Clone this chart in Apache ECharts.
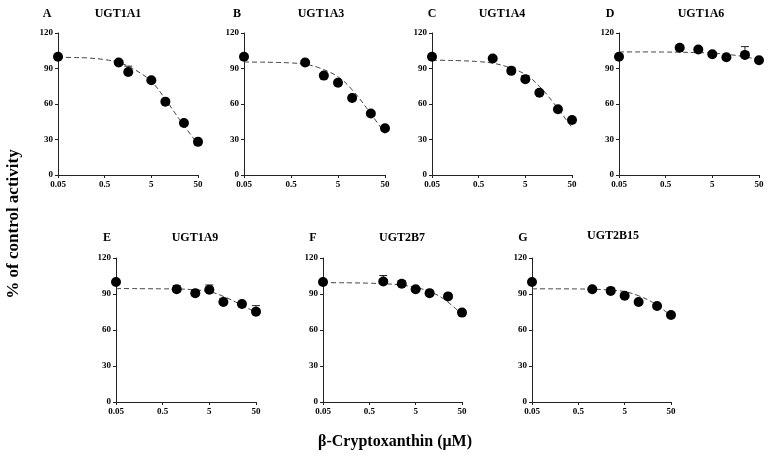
<!DOCTYPE html>
<html>
<head>
<meta charset="utf-8">
<script src="https://cdn.jsdelivr.net/npm/echarts@6/dist/echarts.min.js"></script>
<style>
  html, body { margin: 0; padding: 0; background: #fff; }
  #chart { width: 768px; height: 459px; }
</style>
</head>
<body>
<div id="chart"></div>
<script>
// concentrations (uM) and tick labels
var conc = [0.05, 1, 2.5, 5, 10, 25, 50];
var concA = [0.05, 1, 1.6, 5, 10, 25, 50];
var fitX = [0.05, 0.1, 0.2, 0.5, 1, 2, 5, 10, 20, 50];
var tickLabels = ['0.05', '0.5', '5', '50'];

var letters = ['A', 'B', 'C', 'D', 'E', 'F', 'G'];
var names = ['UGT1A1', 'UGT1A3', 'UGT1A4', 'UGT1A6', 'UGT1A9', 'UGT2B7', 'UGT2B15'];

// % of control activity (mean), upper error, fitted curve read at fitX
var ugt1a1 = [100, 95, 87, 80, 62, 44, 28];
var ugt1a1Err = [0, 0, 5, 0, 0, 0, 0];
var ugt1a1Fit = [99.5, 99.3, 99, 97.5, 95, 90, 79, 64, 47, 26];

var ugt1a3 = [100, 95, 84, 78, 65, 52, 39.5];
var ugt1a3Err = [0, 0, 0, 0, 0, 0, 0];
var ugt1a3Fit = [95.5, 95.4, 95.2, 94.7, 93.5, 90.5, 83, 72, 57, 35];

var ugt1a4 = [100, 98.5, 88, 81, 69.5, 55.5, 46.5];
var ugt1a4Err = [0, 0, 3, 3, 0, 0, 0];
var ugt1a4Fit = [97, 96.9, 96.6, 95.8, 94.5, 91.5, 85, 75, 61, 40];

var ugt1a6 = [100, 107.5, 106, 102, 99.5, 101.5, 97];
var ugt1a6Err = [0, 0, 0, 0, 0, 7, 0];
var ugt1a6Fit = [104, 104, 104, 103.9, 103.8, 103.5, 103, 102, 100.5, 97.5];

var ugt1a9 = [100, 94, 90.7, 93.5, 83.4, 81.7, 75.3];
var ugt1a9Err = [0, 3, 0, 4, 3, 0, 5];
var ugt1a9Fit = [94.5, 94.5, 94.4, 94.3, 94.2, 93.7, 92, 88, 82.5, 74.5];

var ugt2b7 = [100, 100.4, 98.5, 94, 90.7, 88, 74.5];
var ugt2b7Err = [0, 5, 2.5, 0, 0, 2, 0];
var ugt2b7Fit = [99.5, 99.4, 99.3, 99, 98.6, 97.8, 95.5, 92, 86, 73];

var ugt2b15 = [100, 94, 92.6, 88.5, 83.4, 80, 72.5];
var ugt2b15Err = [0, 0, 0, 0, 0, 0, 0];
var ugt2b15Fit = [94.3, 94.3, 94.3, 94.2, 94, 93.5, 92, 88.5, 83, 72];

var panels = [
  { x: concA, y: ugt1a1, err: ugt1a1Err, fit: ugt1a1Fit, grid: [58, 33, 140, 142] },
  { x: conc, y: ugt1a3, err: ugt1a3Err, fit: ugt1a3Fit, grid: [244, 33, 141, 142] },
  { x: conc, y: ugt1a4, err: ugt1a4Err, fit: ugt1a4Fit, grid: [432, 33, 140, 142] },
  { x: conc, y: ugt1a6, err: ugt1a6Err, fit: ugt1a6Fit, grid: [619, 33, 140, 142] },
  { x: conc, y: ugt1a9, err: ugt1a9Err, fit: ugt1a9Fit, grid: [116, 258, 140, 144] },
  { x: conc, y: ugt2b7, err: ugt2b7Err, fit: ugt2b7Fit, grid: [323, 258, 139, 144] },
  { x: conc, y: ugt2b15, err: ugt2b15Err, fit: ugt2b15Fit, grid: [532, 258, 139, 144] }
];
// panel letter / name positions
var letterPos = [[47, 14], [237, 14], [432, 14], [610, 14], [107, 238], [313, 238], [523, 238]];
var namePos = [[118, 14], [321, 14], [502, 14], [701, 14], [195, 238], [402, 238], [613, 236]];

var serif = "'Liberation Serif', 'Times New Roman', serif";

// decades above 0.05 -> value axis position
function lx(v) { return Math.log10(v / 0.05); }

function renderErr(params, api) {
  var p0 = api.coord([api.value(0), api.value(1)]);
  var p1 = api.coord([api.value(0), api.value(1) + api.value(2)]);
  var st = { stroke: '#222', lineWidth: 1 };
  return {
    type: 'group',
    children: [
      { type: 'line', shape: { x1: p0[0], y1: p0[1], x2: p1[0], y2: p1[1] }, style: st },
      { type: 'line', shape: { x1: p1[0] - 4, y1: p1[1], x2: p1[0] + 4, y2: p1[1] }, style: st }
    ]
  };
}

var grids = [], xAxes = [], yAxes = [], series = [], graphics = [];

panels.forEach(function (p, i) {
  grids.push({ left: p.grid[0], top: p.grid[1], width: p.grid[2], height: p.grid[3] });
  xAxes.push({
    type: 'value', gridIndex: i, min: 0, max: 3, interval: 1,
    axisLine: { lineStyle: { color: '#222', width: 1 } },
    axisTick: { length: 3, lineStyle: { color: '#222' } },
    splitLine: { show: false },
    axisLabel: {
      color: '#000', fontFamily: serif, fontWeight: 'bold', fontSize: 9, margin: 5,
      formatter: function (v) { return tickLabels[Math.round(v)]; }
    }
  });
  yAxes.push({
    type: 'value', gridIndex: i, min: 0, max: 120, interval: 30,
    axisLine: { show: true, lineStyle: { color: '#222', width: 1 } },
    axisTick: { show: true, length: 3, lineStyle: { color: '#222' } },
    splitLine: { show: false },
    axisLabel: { color: '#000', fontFamily: serif, fontWeight: 'bold', fontSize: 9, margin: 5 }
  });

  series.push({
    type: 'line', xAxisIndex: i, yAxisIndex: i, smooth: 0.4, symbol: 'none', silent: true,
    lineStyle: { color: '#444', width: 1, type: [5, 3] },
    data: fitX.map(function (v, k) { return [lx(v), p.fit[k]]; })
  });

  var errData = [];
  p.x.forEach(function (v, k) {
    if (p.err[k] > 0) errData.push([lx(v), p.y[k], p.err[k]]);
  });
  series.push({
    type: 'custom', xAxisIndex: i, yAxisIndex: i, renderItem: renderErr,
    encode: { x: 0, y: 1 }, data: errData, z: 3
  });

  series.push({
    type: 'scatter', xAxisIndex: i, yAxisIndex: i, symbolSize: 10, clip: false, z: 4,
    itemStyle: { color: '#000', opacity: 1 },
    data: p.x.map(function (v, k) { return [lx(v), p.y[k]]; })
  });

  graphics.push({
    type: 'text', x: letterPos[i][0], y: letterPos[i][1],
    style: { text: letters[i], font: 'bold 12px ' + serif, fill: '#000', textAlign: 'center', textVerticalAlign: 'middle' }
  });
  graphics.push({
    type: 'text', x: namePos[i][0], y: namePos[i][1],
    style: { text: names[i], font: 'bold 12px ' + serif, fill: '#000', textAlign: 'center', textVerticalAlign: 'middle' }
  });
});

graphics.push({
  type: 'text', x: 395, y: 442,
  style: { text: 'β-Cryptoxanthin (μM)', font: 'bold 16px ' + serif, fill: '#000', textAlign: 'center', textVerticalAlign: 'middle' }
});
graphics.push({
  type: 'text', x: 14, y: 224, rotation: Math.PI / 2,
  style: { text: '% of control activity', font: 'bold 17px ' + serif, fill: '#000', textAlign: 'center', textVerticalAlign: 'middle' }
});

var myChart = echarts.init(document.getElementById('chart'));
myChart.setOption({
  animation: false,
  backgroundColor: '#fff',
  grid: grids,
  xAxis: xAxes,
  yAxis: yAxes,
  series: series,
  graphic: graphics
});
</script>
</body>
</html>
